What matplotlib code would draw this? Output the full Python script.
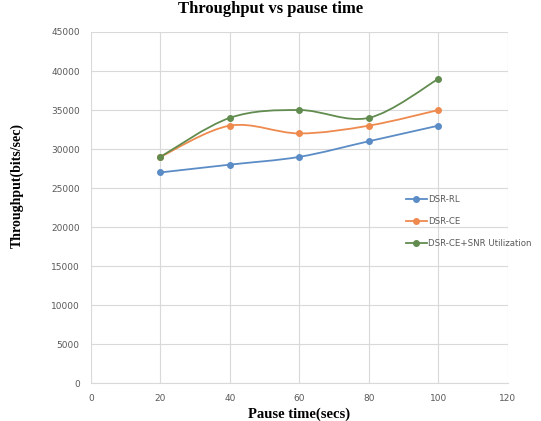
import numpy as np
import matplotlib
matplotlib.use("Agg")
import matplotlib.pyplot as plt
from matplotlib.path import Path
from matplotlib.patches import PathPatch
from matplotlib.lines import Line2D

# --- datos ---
pause_time = [20, 40, 60, 80, 100]
dsr_rl = [27000, 28000, 29000, 31000, 33000]
dsr_ce = [29000, 33000, 32000, 33000, 35000]
dsr_ce_snr = [29000, 34000, 35000, 34000, 39000]

series_names = ["DSR-RL", "DSR-CE", "DSR-CE+SNR Utilization"]
series_colors = ["#5b8cc6", "#ee8a4e", "#628c4f"]

x_ticks = [0, 20, 40, 60, 80, 100, 120]
y_ticks = list(range(0, 45001, 5000))


def smooth_path(xs, ys):
    """Curva suavizada tipo Excel (Bezier por tramos a partir de los puntos)."""
    pts = np.column_stack([xs, ys]).astype(float)
    n = len(pts)
    verts = [pts[0]]
    codes = [Path.MOVETO]
    for i in range(n - 1):
        p0 = pts[i - 1] if i > 0 else pts[i]
        p1 = pts[i]
        p2 = pts[i + 1]
        p3 = pts[i + 2] if i + 2 < n else pts[i + 1]
        c1 = p1 + (p2 - p0) / 6.0
        c2 = p2 - (p3 - p1) / 6.0
        verts += [c1, c2, p2]
        codes += [Path.CURVE4] * 3
    return Path(verts, codes)


W, H = 541, 421
fig = plt.figure(figsize=(W / 100, H / 100), dpi=100)
ax = fig.add_axes([0.168, 0.090, 0.771, 0.834])

grid_c = "#d9d9d9"
tick_c = "#595959"

for ys, col in zip([dsr_rl, dsr_ce, dsr_ce_snr], series_colors):
    patch = PathPatch(smooth_path(pause_time, ys), facecolor="none",
                      edgecolor=col, lw=1.3, zorder=3)
    ax.add_patch(patch)
    ax.plot(pause_time, ys, linestyle="none", marker="o", markersize=4,
            color=col, markeredgecolor=col, zorder=4)

ax.set_xlim(0, 120)
ax.set_ylim(0, 45000)
ax.set_xticks(x_ticks)
ax.set_yticks(y_ticks)
ax.grid(True, color=grid_c, lw=0.8)
ax.set_axisbelow(True)
for s in ["top", "right", "left"]:
    ax.spines[s].set_visible(False)
ax.spines["bottom"].set_color(grid_c)
ax.tick_params(length=0, labelsize=6.5, labelcolor=tick_c, pad=8)

ax.set_xlabel("Pause time(secs)", family="Liberation Serif", fontweight="bold",
              fontsize=10.5, labelpad=3)

# etiqueta Y y titulo colocados en pixeles de la figura
fig.text(17 / W, 1 - 186 / H, "Throughput(bits/sec)", rotation=90, ha="center", va="center",
         family="Liberation Serif", fontweight="bold", fontsize=10)
fig.text(0.5, 1 - 13 / H, "Throughput vs pause time", ha="center", va="baseline",
         family="Liberation Serif", fontweight="bold", fontsize=12)

handles = [Line2D([0], [0], color=c, lw=1.3, marker="o", markersize=4) for c in series_colors]
leg = ax.legend(handles, series_names, loc="upper left",
                bbox_to_anchor=(406 / W, 1 - 195 / H),
                bbox_transform=fig.transFigure, frameon=False,
                fontsize=6.2, handlelength=2.4, handletextpad=0.2,
                labelspacing=1.5, borderaxespad=0, borderpad=0)
for t in leg.get_texts():
    t.set_color(tick_c)

fig.savefig("out.png", dpi=100)
